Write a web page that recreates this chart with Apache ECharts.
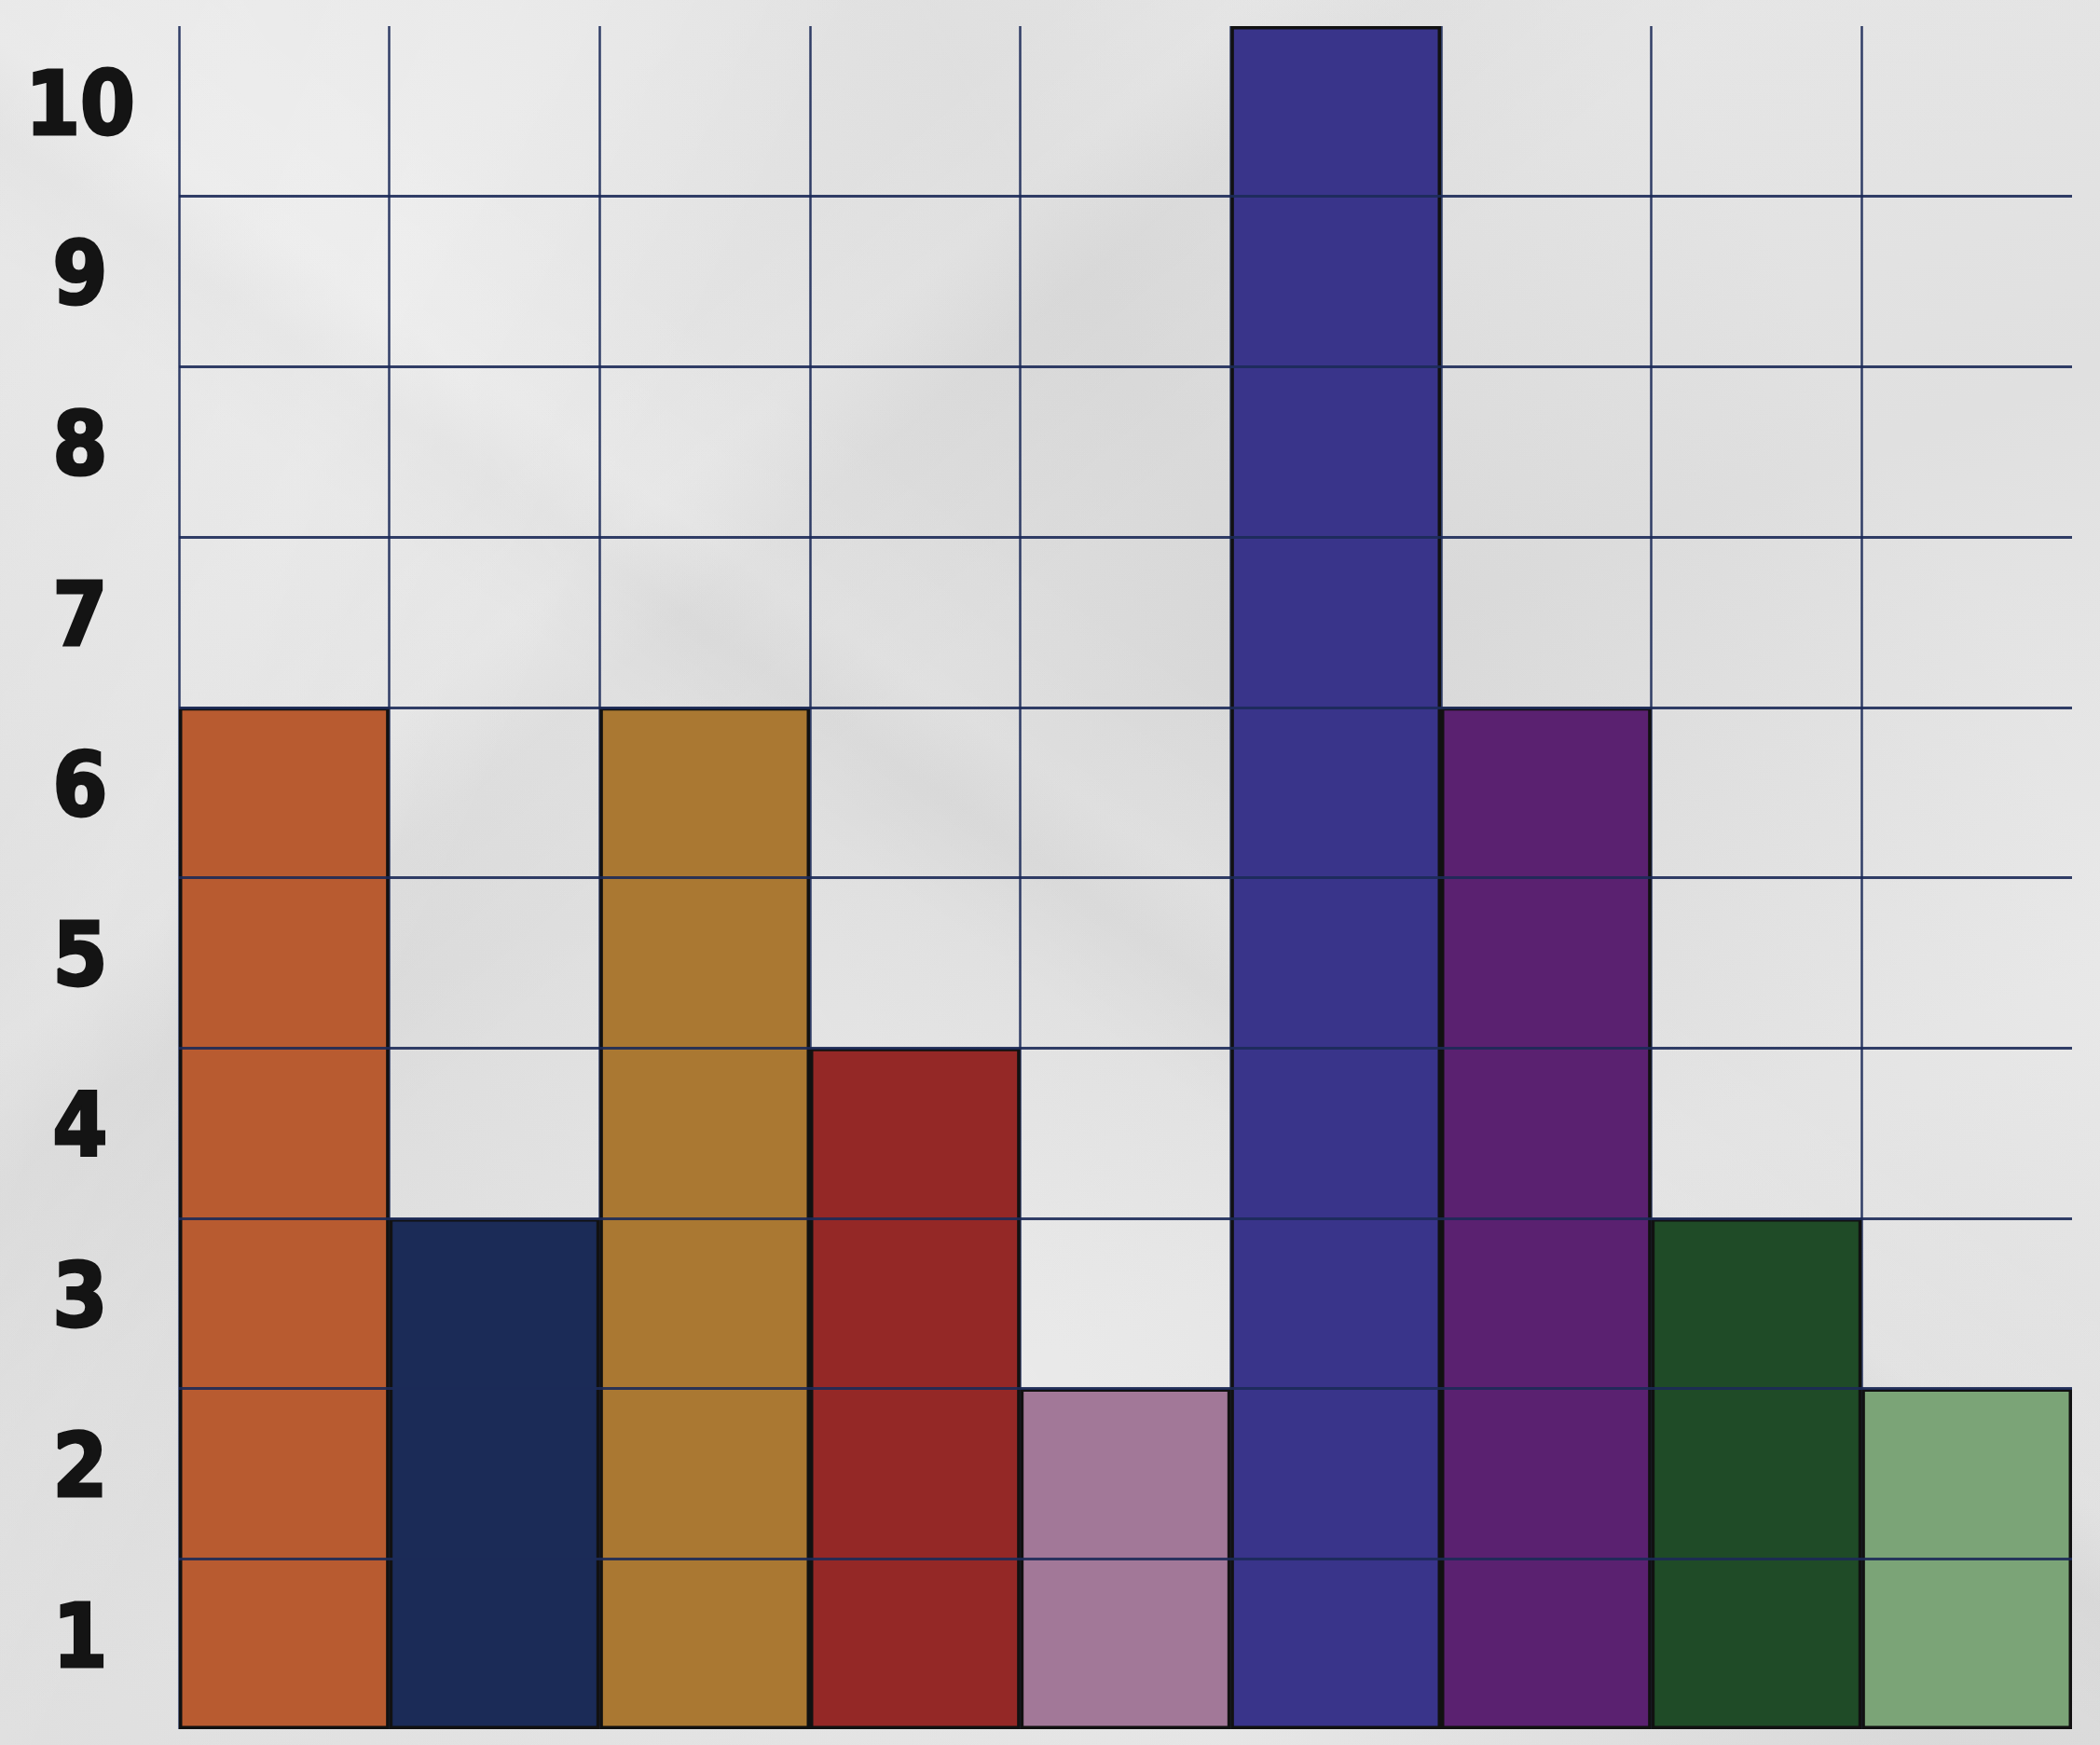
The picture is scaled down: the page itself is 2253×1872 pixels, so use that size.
<!DOCTYPE html>
<html>
<head>
<meta charset="utf-8">
<title>Bar chart on grid paper</title>
<script src="https://cdn.jsdelivr.net/npm/echarts@6/dist/echarts.min.js"></script>
<style>
  html, body { margin: 0; padding: 0; width: 2253px; height: 1872px; overflow: hidden; }
  body {
    background-color: #e3e3e3;
    background-image:
      linear-gradient(115deg, rgba(255,255,255,0.00) 0%, rgba(255,255,255,0.18) 18%, rgba(0,0,0,0.00) 30%),
      linear-gradient(60deg, rgba(0,0,0,0.03) 0%, rgba(255,255,255,0.14) 40%, rgba(0,0,0,0.025) 62%, rgba(255,255,255,0.12) 85%),
      linear-gradient(160deg, rgba(255,255,255,0.12) 10%, rgba(0,0,0,0.03) 45%, rgba(255,255,255,0.12) 70%, rgba(0,0,0,0.025) 100%),
      linear-gradient(35deg, rgba(0,0,0,0) 46%, rgba(0,0,0,0.025) 50%, rgba(255,255,255,0.1) 53%, rgba(0,0,0,0) 60%),
      linear-gradient(140deg, rgba(0,0,0,0) 25%, rgba(255,255,255,0.1) 30%, rgba(0,0,0,0.02) 34%, rgba(0,0,0,0) 42%);
  }
  #chart { width: 2253px; height: 1872px; }
</style>
</head>
<body>
<div id="chart"></div>
<script>
// Columns, their values and the tick labels shown on the left
const categories = ['A', 'B', 'C', 'D', 'E', 'F', 'G', 'H', 'I'];
const values = [6, 3, 6, 4, 2, 10, 6, 3, 2];
const barColors = ['#b85b30', '#1b2b57', '#aa7832', '#942826', '#a27898', '#39348a', '#5a2170', '#1f4b27', '#7ba477'];
const tickLabels = ['1', '2', '3', '4', '5', '6', '7', '8', '9', '10'];

const gridLineColor = 'rgba(28, 42, 88, 0.9)';

const chart = echarts.init(document.getElementById('chart'), null, { renderer: 'canvas' });

chart.setOption({
  backgroundColor: 'transparent',
  animation: false,
  grid: { left: 192, right: 30, top: 28, bottom: 17, containLabel: false },
  xAxis: {
    type: 'category',
    data: categories,
    boundaryGap: true,
    axisLine: { show: false },
    axisTick: { show: false },
    axisLabel: { show: false },
    splitLine: {
      show: true,
      showMinLine: true,
      showMaxLine: false,
      lineStyle: { color: gridLineColor, width: 2.5 }
    }
  },
  yAxis: [
    {
      // value scale: bars and the horizontal rules (drawn above the bars)
      type: 'value',
      min: 0,
      max: 10,
      interval: 1,
      z: 5,
      axisLine: { show: false },
      axisTick: { show: false },
      axisLabel: { show: false },
      splitLine: {
        show: true,
        showMinLine: false,
        showMaxLine: false,
        lineStyle: { color: gridLineColor, width: 3 }
      }
    },
    {
      // labels sit in the middle of each unit band
      type: 'category',
      data: tickLabels,
      boundaryGap: true,
      position: 'left',
      axisLine: { show: false },
      axisTick: { show: false },
      splitLine: { show: false },
      axisLabel: {
        show: true,
        align: 'center',
        margin: 106,
        fontFamily: '"DejaVu Sans Condensed", "DejaVu Sans", sans-serif',
        fontWeight: 'bold',
        fontSize: 94,
        color: '#141414',
        textBorderColor: '#141414',
        textBorderWidth: 3
      }
    }
  ],
  series: [
    {
      type: 'bar',
      xAxisIndex: 0,
      yAxisIndex: 0,
      barCategoryGap: '0%',
      z: 2,
      data: values.map((v, i) => ({
        value: v,
        itemStyle: { color: barColors[i] }
      })),
      itemStyle: { borderColor: '#111', borderWidth: 3.5 }
    }
  ]
});
</script>
</body>
</html>
